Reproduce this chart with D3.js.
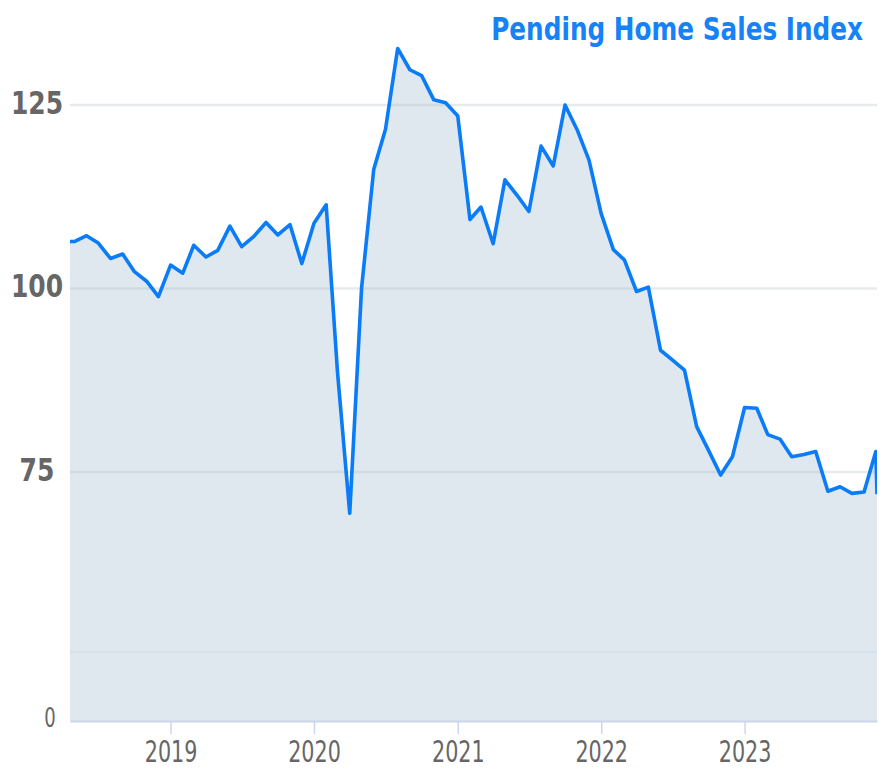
<!DOCTYPE html>
<html>
<head>
<meta charset="utf-8">
<script src="https://cdn.jsdelivr.net/npm/d3@7"></script>
<style>
  body { margin: 0; background: #fff; }
  svg { display: block; }
</style>
</head>
<body>
<svg id="drawing_region"></svg>
<script>
// monthly index, first of month
const months = [
    "2018-04-01","2018-05-01","2018-06-01","2018-07-01","2018-08-01","2018-09-01",
    "2018-10-01","2018-11-01","2018-12-01",
    "2019-01-01","2019-02-01","2019-03-01","2019-04-01","2019-05-01","2019-06-01",
    "2019-07-01","2019-08-01","2019-09-01","2019-10-01","2019-11-01","2019-12-01",
    "2020-01-01","2020-02-01","2020-03-01","2020-04-01","2020-05-01","2020-06-01",
    "2020-07-01","2020-08-01","2020-09-01","2020-10-01","2020-11-01","2020-12-01",
    "2021-01-01","2021-02-01","2021-03-01","2021-04-01","2021-05-01","2021-06-01",
    "2021-07-01","2021-08-01","2021-09-01","2021-10-01","2021-11-01","2021-12-01",
    "2022-01-01","2022-02-01","2022-03-01","2022-04-01","2022-05-01","2022-06-01",
    "2022-07-01","2022-08-01","2022-09-01","2022-10-01","2022-11-01","2022-12-01",
    "2023-01-01","2023-02-01","2023-03-01","2023-04-01","2023-05-01","2023-06-01",
    "2023-07-01","2023-08-01","2023-09-01","2023-10-01","2023-11-01","2023-12-01",
    "2023-12-04"
];
const index_values = [
    106.4, 106.4, 107.2, 106.2, 104.1, 104.7, 102.3, 101.0, 98.9,
    103.2, 102.1, 105.9, 104.3, 105.2, 108.5, 105.7, 107.1, 109.0, 107.3, 108.7, 103.4,
    108.9, 111.4, 88.5, 69.4, 100.0, 116.2, 121.7, 132.7, 129.8, 129.0, 125.7, 125.3,
    123.5, 109.4, 111.1, 106.1, 114.8, 112.7, 110.5, 119.4, 116.7, 125.0, 121.6, 117.5,
    110.2, 105.3, 103.9, 99.6, 100.2, 91.6, 90.3, 88.9, 81.2, 78.0, 74.6, 77.1,
    83.8, 83.7, 80.1, 79.5, 77.1, 77.4, 77.8, 72.4, 73.0, 72.1, 72.3, 77.8,
    72.0
];
const year_ticks = ["2019-01-01","2020-01-01","2021-01-01","2022-01-01","2023-01-01"];
const value_ticks = [0, 75, 100, 125];
const title_text = "Pending Home Sales Index";

const parseDate = d3.timeParse("%Y-%m-%d");
const data = months.map((m, i) => ({ date: parseDate(m), value: index_values[i] }));

const narrow = '"DejaVu Sans Condensed", "Liberation Sans Narrow", sans-serif';

const config = {
    width: 890,
    height: 770,
    left: 70,
    right: 877,
    bottom: 721,
    brk: 652,       // axis break between 0 and the upper range
};

const svg = d3.select('#drawing_region')
    .attr('width', config.width)
    .attr('height', config.height);

// x: visible window of the time series
const xscale = d3.scaleTime()
    .domain([parseDate("2018-04-20"), parseDate("2023-12-04")])
    .range([config.left, config.right]);

// y: broken axis, 0 sits just under the break
const yscale = d3.scaleLinear()
    .domain([0, 50.5, 125])
    .range([config.bottom, config.brk, 105]);

svg.append('defs').append('clipPath')
    .attr('id', 'plot_clip')
    .append('rect')
    .attr('x', config.left)
    .attr('y', 0)
    .attr('width', config.right - config.left)
    .attr('height', config.bottom);

const plot = svg.append('g').attr('clip-path', 'url(#plot_clip)');

const area = d3.area()
    .x(d => xscale(d.date))
    .y0(yscale(0))
    .y1(d => yscale(d.value));

plot.append('path')
    .datum(data)
    .attr('d', area)
    .attr('fill', '#dfe8ef');

// seam of the axis break
plot.append('line')
    .attr('x1', config.left)
    .attr('x2', config.right)
    .attr('y1', config.brk)
    .attr('y2', config.brk)
    .attr('stroke', '#d5dfe8')
    .attr('stroke-width', 1.5);

// grid lines, see-through so they stay faint over the fill
svg.append('g')
    .selectAll('line')
    .data(value_ticks.filter(v => v > 0))
    .join('line')
    .attr('x1', config.left)
    .attr('x2', config.right)
    .attr('y1', d => yscale(d))
    .attr('y2', d => yscale(d))
    .attr('stroke', '#b0b8c0')
    .attr('stroke-opacity', 0.3)
    .attr('stroke-width', 2.5);

const line = d3.line()
    .x(d => xscale(d.date))
    .y(d => yscale(d.value));

svg.append('path')
    .datum(data)
    .attr('clip-path', 'url(#plot_clip)')
    .attr('d', line)
    .attr('fill', 'none')
    .attr('stroke', '#0a7cf8')
    .attr('stroke-width', 3.6)
    .attr('stroke-linejoin', 'round');

// x axis
const xaxis = d3.axisBottom(xscale)
    .tickValues(year_ticks.map(parseDate))
    .tickFormat(d3.timeFormat("%Y"))
    .tickSize(13)
    .tickSizeOuter(0);

const xaxis_group = svg.append('g')
    .attr('transform', `translate(0, ${config.bottom})`)
    .call(xaxis);

xaxis_group.select('.domain')
    .attr('stroke', '#ccd6eb')
    .attr('stroke-width', 2);
xaxis_group.selectAll('.tick line')
    .attr('stroke', '#ccd6eb')
    .attr('stroke-width', 1.5);
xaxis_group.selectAll('.tick text')
    .attr('y', 0)
    .attr('dy', 0)
    .attr('transform', 'translate(0, 41) scale(1, 1.3)')
    .attr('fill', '#666')
    .style('font-family', narrow)
    .style('font-size', '23px');

// y labels
svg.append('g')
    .selectAll('text')
    .data(value_ticks)
    .join('text')
    .attr('transform', d => d === 0
        ? `translate(50, ${yscale(d) - 3}) scale(1, 1.3)`
        : `translate(37, ${yscale(d) - 2}) scale(1, 1.25)`)
    .attr('text-anchor', 'middle')
    .attr('dy', '0.35em')
    .attr('fill', '#666')
    .style('font-family', d => d === 0 ? narrow : '"DejaVu Sans", Verdana, sans-serif')
    .style('font-weight', d => d === 0 ? 'normal' : 'bold')
    .style('font-size', d => d === 0 ? '20px' : '25px')
    .text(d => d);

// title
svg.append('text')
    .attr('transform', 'translate(863, 40) scale(1, 1.15)')
    .attr('text-anchor', 'end')
    .attr('fill', '#1682f6')
    .style('font-family', narrow)
    .style('font-weight', 'bold')
    .style('font-size', '27.5px')
    .text(title_text);
</script>
</body>
</html>
